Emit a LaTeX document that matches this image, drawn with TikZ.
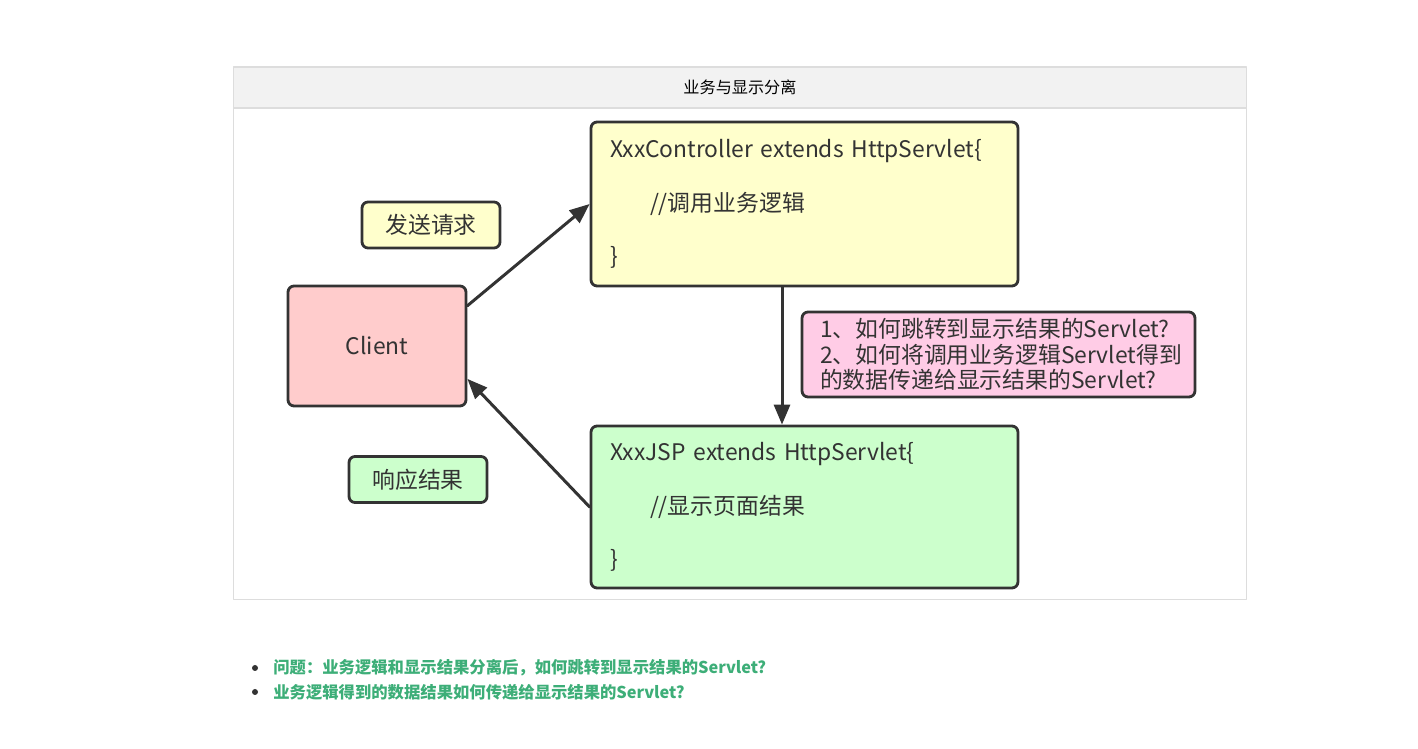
\documentclass[tikz,border=0pt]{standalone}
\usepackage{fontspec}
\setmainfont{Noto Sans CJK SC}
\usetikzlibrary{arrows.meta,positioning}
\definecolor{ink}{HTML}{333333}
\definecolor{softyellow}{HTML}{FFFFCC}
\definecolor{softred}{HTML}{FFCCCC}
\definecolor{softgreen}{HTML}{CCFFCC}
\definecolor{softpink}{HTML}{FFCCE6}
\definecolor{framegray}{HTML}{DDDDDD}
\definecolor{headgray}{HTML}{F2F2F2}
\definecolor{notegreen}{HTML}{3DAE78}
\tikzset{
    every picture/.style={line cap=round,line join=round},
    codebox/.style={draw=ink,line width=1.6pt,rounded corners=1.2mm,
      minimum width=8.54cm,minimum height=3.28cm,text width=7.78cm,
      inner xsep=0.38cm,align=left,text=ink,
      font=\fontsize{13}{30.6}\selectfont},
    tagbox/.style={draw=ink,line width=1.6pt,rounded corners=1.2mm,
      minimum width=2.76cm,minimum height=0.92cm,inner sep=2pt,text=ink,
      font=\fontsize{13}{16}\selectfont},
    notebox/.style={draw=ink,line width=1.6pt,rounded corners=1.2mm,fill=softpink,
      minimum width=7.86cm,minimum height=1.7cm,text width=7.14cm,
      inner xsep=0.36cm,align=left,text=ink,
      font=\fontsize{13}{14.6}\selectfont},
    flowarrow/.style={-{Triangle[length=4mm,width=3.2mm]},draw=ink,
      line width=1.7pt},
    dotitem/.style={circle,fill=ink,inner sep=0pt,minimum size=1.2mm},
    itemtext/.style={anchor=west,text=notegreen,inner sep=0pt,
      font=\fontsize{9.3}{11}\selectfont\bfseries}
}

\begin{document}
\begin{tikzpicture}[x=0.02cm,y=-0.02cm]
  \useasboundingbox (0,0) rectangle (1418,749);
  % frame and header
  \node[draw=framegray,line width=0.6pt,minimum width=20.28cm,minimum height=10.66cm]
    (frame) at (740,333.5) {};
  \node[draw=framegray,fill=headgray,line width=0.6pt,minimum width=20.28cm,
    minimum height=0.82cm,text=black,font=\fontsize{9.2}{11}\selectfont]
    (head) at (740,87.5) {业务与显示分离};
  % boxes
  \node[codebox,fill=softyellow] (ctrl) at (804.5,204)
    {XxxController extends HttpServlet\{\\\hspace*{0.8cm}//调用业务逻辑\\\}};
  \node[codebox,fill=softgreen,minimum height=3.24cm] (jsp) at (804.5,507)
    {XxxJSP extends HttpServlet\{\\\hspace*{0.8cm}//显示页面结果\\\}};
  \node[tagbox,fill=softred,minimum width=3.56cm,minimum height=2.4cm]
    (client) at (377,346) {Client};
  \node[tagbox,fill=softyellow] (send) at (431,225) {发送请求};
  \node[tagbox,fill=softgreen] (reply) at (418,479.5) {响应结果};
  \node[notebox] (note) at (998.5,354.5)
    {1、如何跳转到显示结果的Servlet?\\2、如何将调用业务逻辑Servlet得到\\的数据传递给显示结果的Servlet?};
  % connectors
  \draw[flowarrow] (client.24) -- (ctrl.west);
  \draw[flowarrow] (jsp.west) -- (client.-20);
  \draw[flowarrow] ([xshift=-0.45cm]ctrl.south) -- ([xshift=-0.45cm]jsp.north);
  % questions below
  \node[dotitem] (dot1) at (255,668) {};
  \node[dotitem] (dot2) at (255,692) {};
  \node[itemtext] (q1) at (273,668) {问题：业务逻辑和显示结果分离后，如何跳转到显示结果的Servlet?};
  \node[itemtext] (q2) at (273,692) {业务逻辑得到的数据结果如何传递给显示结果的Servlet?};
\end{tikzpicture}
\end{document}
